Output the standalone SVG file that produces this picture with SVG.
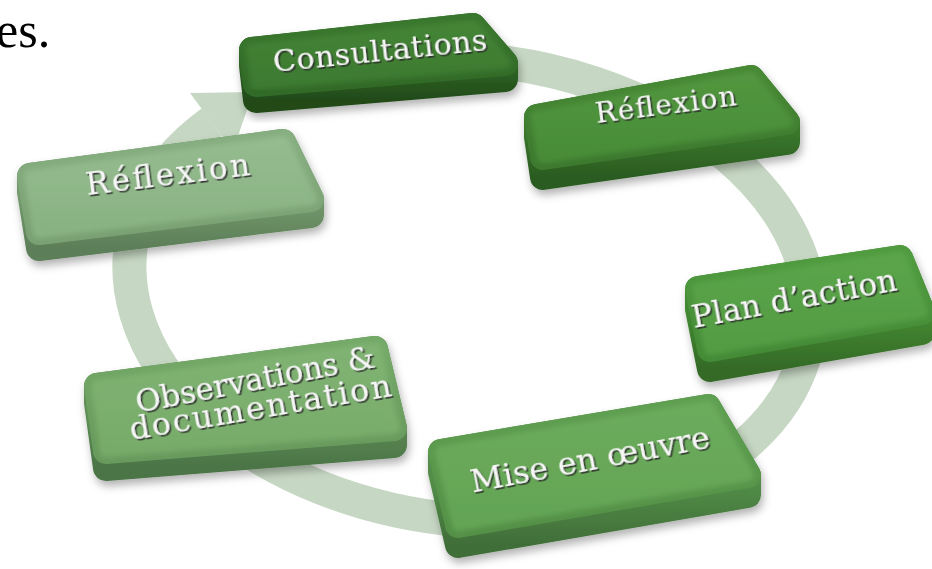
<svg xmlns="http://www.w3.org/2000/svg" width="932" height="569" viewBox="0 0 932 569">
<defs>
<style>
.lbl{font-family:"DejaVu Serif","Liberation Serif",serif;fill:#f6f6f6;text-anchor:middle;filter:url(#ts)}
.band{fill:none;stroke:#c6d7c3;stroke-width:34}
.head{fill:#c6d7c3}
.side{stroke-width:26;stroke-linejoin:round;filter:url(#sh)}
.top{stroke-width:26;stroke-linejoin:round}
.face{stroke-width:12;stroke-linejoin:round;filter:url(#soft)}
</style>
<filter id="ts" x="-10%" y="-40%" width="120%" height="180%"><feDropShadow dx="1.5" dy="1.8" stdDeviation="0.6" flood-color="#2a2a2a" flood-opacity="0.9"/></filter>
<filter id="sh" x="-10%" y="-20%" width="120%" height="150%"><feDropShadow dx="2" dy="5" stdDeviation="4" flood-color="#000" flood-opacity="0.3"/></filter>
<filter id="soft" x="-5%" y="-10%" width="110%" height="120%"><feGaussianBlur stdDeviation="2.5"/></filter>
<linearGradient id="t1" x1="0" y1="0" x2="0" y2="1"><stop offset="0" stop-color="#3a772e"/><stop offset="1" stop-color="#326a27"/></linearGradient>
<linearGradient id="h1" x1="0" y1="0" x2="0" y2="1"><stop offset="0" stop-color="#448436"/><stop offset="1" stop-color="#3c7a30"/></linearGradient>
<linearGradient id="s1" x1="0" y1="0" x2="0" y2="1"><stop offset="0.55" stop-color="#306625"/><stop offset="1" stop-color="#214a19"/></linearGradient>
<linearGradient id="t2" x1="0" y1="0" x2="0" y2="1"><stop offset="0" stop-color="#478935"/><stop offset="1" stop-color="#3d7a2f"/></linearGradient>
<linearGradient id="h2" x1="0" y1="0" x2="0" y2="1"><stop offset="0" stop-color="#52963f"/><stop offset="1" stop-color="#488c38"/></linearGradient>
<linearGradient id="s2" x1="0" y1="0" x2="0" y2="1"><stop offset="0.55" stop-color="#3a772c"/><stop offset="1" stop-color="#2b5b21"/></linearGradient>
<linearGradient id="t3" x1="0" y1="0" x2="0" y2="1"><stop offset="0" stop-color="#86ae80"/><stop offset="1" stop-color="#7aa173"/></linearGradient>
<linearGradient id="h3" x1="0" y1="0" x2="0" y2="1"><stop offset="0" stop-color="#94bb8e"/><stop offset="1" stop-color="#89b283"/></linearGradient>
<linearGradient id="s3" x1="0" y1="0" x2="0" y2="1"><stop offset="0.55" stop-color="#74996d"/><stop offset="1" stop-color="#5c7e58"/></linearGradient>
<linearGradient id="t4" x1="0" y1="0" x2="0" y2="1"><stop offset="0" stop-color="#509b3f"/><stop offset="1" stop-color="#458b37"/></linearGradient>
<linearGradient id="h4" x1="0" y1="0" x2="0" y2="1"><stop offset="0" stop-color="#5ba449"/><stop offset="1" stop-color="#539c43"/></linearGradient>
<linearGradient id="s4" x1="0" y1="0" x2="0" y2="1"><stop offset="0.55" stop-color="#438731"/><stop offset="1" stop-color="#346a27"/></linearGradient>
<linearGradient id="t5" x1="0" y1="0" x2="0" y2="1"><stop offset="0" stop-color="#5f9f51"/><stop offset="1" stop-color="#549147"/></linearGradient>
<linearGradient id="h5" x1="0" y1="0" x2="0" y2="1"><stop offset="0" stop-color="#6bab5c"/><stop offset="1" stop-color="#63a455"/></linearGradient>
<linearGradient id="s5" x1="0" y1="0" x2="0" y2="1"><stop offset="0.55" stop-color="#528d48"/><stop offset="1" stop-color="#416e39"/></linearGradient>
<linearGradient id="t6" x1="0" y1="0" x2="0" y2="1"><stop offset="0" stop-color="#74a968"/><stop offset="1" stop-color="#689a5d"/></linearGradient>
<linearGradient id="h6" x1="0" y1="0" x2="0" y2="1"><stop offset="0" stop-color="#80b373"/><stop offset="1" stop-color="#77ab6a"/></linearGradient>
<linearGradient id="s6" x1="0" y1="0" x2="0" y2="1"><stop offset="0.55" stop-color="#5f8f57"/><stop offset="1" stop-color="#4b7446"/></linearGradient>
</defs>
<rect width="932" height="569" fill="#ffffff"/>
<text x="-4" y="47" font-family="Liberation Serif" font-size="50" fill="#000">es.</text>

<g id="connectors">
<path class="band" d="M 450.6 58.1 A 342 230 7 1 1 211.9 122.1"/>
<polygon class="head" points="190,93 253,92 233,151"/>
</g>

<g id="reflexion-left">
<polygon class="side" points="30,176 283,142 311,199 311,215 39,248 30,192" fill="url(#s3)" stroke="url(#s3)"/>
<polygon class="top" points="30,176 283,142 311,199 39,232" fill="url(#t3)" stroke="url(#t3)"/>
<polygon class="face" points="30,176 283,142 311,199 39,232" fill="url(#h3)" stroke="url(#h3)"/>
<text class="lbl" x="169" y="185" font-size="31" textLength="165" lengthAdjust="spacing" transform="rotate(-7 169 185)">Réflexion</text>
</g>

<g id="consultations">
<polygon class="side" points="252,50 473,26 505,63 505,79 256,100 252,66" fill="url(#s1)" stroke="url(#s1)"/>
<polygon class="top" points="252,50 473,26 505,63 256,84" fill="url(#t1)" stroke="url(#t1)"/>
<polygon class="face" points="252,50 473,26 505,63 256,84" fill="url(#h1)" stroke="url(#h1)"/>
<text class="lbl" x="381" y="61" font-size="30" textLength="215" lengthAdjust="spacing" transform="rotate(-5.9 381 61)">Consultations</text>
</g>

<g id="reflexion-right">
<polygon class="side" points="537,117 751,78 787,122 787,142 543,177 537,137" fill="url(#s2)" stroke="url(#s2)"/>
<polygon class="top" points="537,117 751,78 787,122 543,157" fill="url(#t2)" stroke="url(#t2)"/>
<polygon class="face" points="537,117 751,78 787,122 543,157" fill="url(#h2)" stroke="url(#h2)"/>
<text class="lbl" x="667" y="114" font-size="28" textLength="142" lengthAdjust="spacing" transform="rotate(-7.3 667 114)">Réflexion</text>
</g>

<g id="plan-action">
<polygon class="side" points="698,289 900,258 922,312 922,332 710,369 698,309" fill="url(#s4)" stroke="url(#s4)"/>
<polygon class="top" points="698,289 900,258 922,312 710,349" fill="url(#t4)" stroke="url(#t4)"/>
<polygon class="face" points="698,289 900,258 922,312 710,349" fill="url(#h4)" stroke="url(#h4)"/>
<text class="lbl" x="796" y="309" font-size="31" textLength="208" lengthAdjust="spacing" transform="rotate(-10.5 796 309)">Plan d’action</text>
</g>

<g id="observations">
<polygon class="side" points="97,386 375,349 394,428 394,445 106,468 97,403" fill="url(#s6)" stroke="url(#s6)"/>
<polygon class="top" points="97,386 375,349 394,428 106,451" fill="url(#t6)" stroke="url(#t6)"/>
<polygon class="face" points="97,386 375,349 394,428 106,451" fill="url(#h6)" stroke="url(#h6)"/>
<text class="lbl" x="257" y="390" font-size="31" textLength="243" lengthAdjust="spacing" transform="rotate(-10.9 257 390)">Observations &amp;</text>
<text class="lbl" x="262" y="418" font-size="32" textLength="265" lengthAdjust="spacing" transform="rotate(-9.6 262 418)">documentation</text>
</g>

<g id="mise-en-oeuvre">
<polygon class="side" points="441,452 708,407 748,475 748,495 458,545 441,472" fill="url(#s5)" stroke="url(#s5)"/>
<polygon class="top" points="441,452 708,407 748,475 458,525" fill="url(#t5)" stroke="url(#t5)"/>
<polygon class="face" points="441,452 708,407 748,475 458,525" fill="url(#h5)" stroke="url(#h5)"/>
<text class="lbl" x="592" y="470" font-size="32" textLength="243" lengthAdjust="spacing" transform="rotate(-10.7 592 470)">Mise en œuvre</text>
</g>
</svg>
